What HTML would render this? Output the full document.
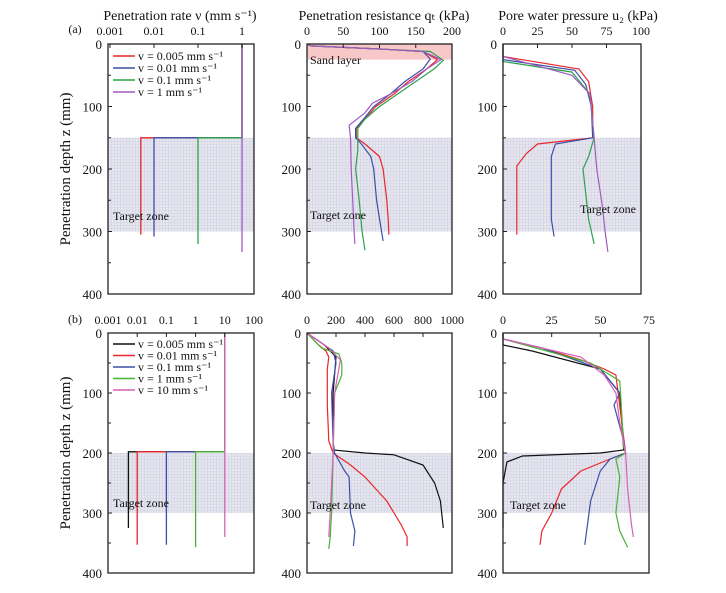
<!DOCTYPE html>
<html><head><meta charset="utf-8"><style>
body{margin:0;background:#fff;}
svg{display:block;font-family:"Liberation Serif",serif;}
</style></head><body>
<svg id="fig" width="726" height="593" viewBox="0 0 726 593" xmlns="http://www.w3.org/2000/svg"></svg>
<script>
// ---- data (depth mm, value) ----
// Panel (a) rate
const aRateLabels=["v = 0.005 mm s⁻¹","v = 0.01 mm s⁻¹","v = 0.1 mm s⁻¹","v = 1 mm s⁻¹"];
const aRateVals=[0.005,0.01,0.1,1];
const aRateEnd=[305,308,320,333];
const aChange=150;
const aColors=["#e8262b","#3b4fa8","#2ca34a","#a05cc0"];
// Panel (a) qt
const aQtDepth=[[0,3,8,12,25,40,60,80,100,120,135,150,160,180,200,250,280,305],[0,3,8,12,24,40,60,80,100,120,135,150,160,180,200,250,280,315],[0,3,8,12,26,40,60,80,100,120,135,150,170,200,250,300,330],[0,3,8,12,25,40,60,80,95,110,130,150,200,250,300,320]];
const aQtVals=[[0,5,100,160,180,165,140,120,95,80,68,68,80,100,105,110,112,113],[0,5,100,160,170,160,135,115,92,78,67,67,75,88,92,96,100,105],[0,5,100,170,188,175,150,125,100,80,70,70,70,67,72,76,80],[0,5,100,160,185,165,145,115,90,80,58,60,61,63,65,66]];
// Panel (a) u2
const aUDepth=[[0,20,40,60,100,150,160,175,195,250,305],[0,25,42,65,100,150,160,180,280,308],[0,28,45,80,150,180,200,280,320],[0,20,50,80,150,200,260,300,333]];
const aUVals=[[0,0,55,62,65,65,25,17,10,10,10],[0,0,52,60,64,65,38,35,35,37],[0,0,50,63,66,62,58,62,66],[0,0,50,63,66,68,72,74,76]];
// Panel (b) rate
const bRateLabels=["v = 0.005 mm s⁻¹","v = 0.01 mm s⁻¹","v = 0.1 mm s⁻¹","v = 1 mm s⁻¹","v = 10 mm s⁻¹"];
const bRateVals=[0.005,0.01,0.1,1,10];
const bRateEnd=[325,353,353,357,340];
const bChange=198;
const bColors=["#111111","#e8262b","#3b4fa8","#49b233","#d860b8"];
// Panel (b) qt
const bQtDepth=[[0,20,40,100,195,200,203,220,250,280,325],[0,20,30,40,60,120,180,200,220,240,280,320,340,355],[0,30,50,100,180,200,230,240,300,330,355],[0,25,35,50,70,100,200,300,340,360],[0,25,45,100,200,300,340]];
const bQtVals=[[0,120,200,180,180,400,600,800,880,920,940],[0,80,130,150,140,140,150,180,300,400,550,650,690,690],[0,180,200,170,180,190,260,290,300,330,320],[0,100,220,240,240,190,180,170,160,150],[0,150,230,190,180,160,150]];
// Panel (b) u2
const bUDepth=[[0,20,30,60,100,195,200,205,215,250,325],[0,10,25,45,60,70,200,210,230,260,300,330,353],[0,10,25,60,100,120,180,200,210,230,280,353],[0,10,50,80,190,200,210,240,300,330,357],[0,10,40,70,100,150,200,260,320,340]];
const bUVals=[[0,0,15,50,60,62,50,10,2,0,0],[0,0,20,40,52,58,63,55,40,30,25,20,19],[0,0,20,50,60,57,62,63,55,50,45,42],[0,0,45,60,62,63,58,60,58,60,64],[0,0,40,52,58,60,63,64,66,67]];

const NS="http://www.w3.org/2000/svg";
const svg=document.getElementById('fig');
function mk(tag,attrs,parent){const e=document.createElementNS(NS,tag);for(const k in attrs)e.setAttribute(k,attrs[k]);(parent||svg).appendChild(e);return e;}
function txt(x,y,s,anchor,size,name){const t=mk('text',{x:x,y:y,'text-anchor':anchor||'middle','font-size':size||12,fill:'#111'});t.textContent=s;

return t;}

const defs=mk('defs',{});
const pat=mk('pattern',{id:'grid',width:3,height:3,patternUnits:'userSpaceOnUse'},defs);
mk('rect',{width:3,height:3,fill:'#e6e6f0'},pat);
mk('path',{d:'M0 0.5H3M0.5 0V3',stroke:'#d2d2e2','stroke-width':0.6},pat);

function panel(o){
  const g=mk('g',{});
  
  
  const y=d=>o.y0+(o.y1-o.y0)*d/400;
  const x=o.sx;
  const z=mk('rect',{x:o.x0,y:y(o.zone[0]),width:o.x1-o.x0,height:y(o.zone[1])-y(o.zone[0]),fill:'url(#grid)'},g);
  
  
  if(o.sand){const s=mk('rect',{x:o.x0,y:y(0),width:o.x1-o.x0,height:y(25)-y(0),fill:'#f8c8c8'},g);
    
    }
  o.draw(g,x,y);
  const f=mk('rect',{x:o.x0,y:o.y0,width:o.x1-o.x0,height:o.y1-o.y0,fill:'none',stroke:'#222','stroke-width':1.3},g);
  
  
  [0,100,200,300,400].forEach(d=>{txt(o.x0-6,y(d)+5,String(d),'end',13,'y-tick-label');mk('line',{x1:o.x0,x2:o.x0+4,y1:y(d),y2:y(d),stroke:'#222'},g);});
  [50,150,250,350].forEach(d=>mk('line',{x1:o.x0,x2:o.x0+3,y1:y(d),y2:y(d),stroke:'#222'},g));
  o.xticks.forEach((v,i)=>{txt(x(v),o.y0-9,o.xlabels[i],'middle',12,'x-tick-label');mk('line',{x1:x(v),x2:x(v),y1:o.y0,y2:o.y0+4,stroke:'#222'},g);});
  txt(o.zoneLabel[0],o.zoneLabel[1],'Target zone','start',12,'target-zone-label');
}
function poly(g,xs,ys,col,w,name){const pts=xs.map((v,i)=>v.toFixed(1)+','+ys[i].toFixed(1)).join(' ');
  const p=mk('polyline',{points:pts,fill:'none',stroke:col,'stroke-width':w||1.2},g);
  
  }
function series(depths,vals,colors,prefix){return (g,x,y)=>{depths.forEach((d,i)=>poly(g,vals[i].map(x),d.map(y),colors[i],1.2,prefix+'-'+i));};}
function rateSeries(vals,ends,change,colors,top,prefix){return (g,x,y)=>{vals.forEach((v,i)=>{poly(g,[x(top),x(top),x(v),x(v)],[y(0),y(change),y(change),y(ends[i])],colors[i],1.3,prefix+'-'+i);});};}
function legend(labels,colors,x0,y0,dy){labels.forEach((l,i)=>{const ln=mk('line',{x1:x0,x2:x0+22,y1:y0+i*dy-4,y2:y0+i*dy-4,stroke:colors[i],'stroke-width':1.6});
  
  
  txt(x0+25,y0+i*dy,l,'start',12,'legend-entry');});}

const logA=v=>110+44*Math.log10(v/0.001);
const logB=v=>108+29.2*Math.log10(v/0.001);
panel({name:'panel-a-rate',x0:108,x1:254,y0:44,y1:294,zone:[150,300],sx:logA,xticks:[0.001,0.01,0.1,1],xlabels:['0.001','0.01','0.1','1'],zoneLabel:[113,220],
  draw:rateSeries(aRateVals,aRateEnd,aChange,aColors,1,'rate-line-a')});
legend(aRateLabels,aColors,113,60,12);
panel({name:'panel-a-resistance',x0:307,x1:452,y0:44,y1:294,zone:[150,300],sand:true,sx:v=>307+145*v/200,xticks:[0,50,100,150,200],xlabels:['0','50','100','150','200'],zoneLabel:[310,219],
  draw:series(aQtDepth,aQtVals,aColors,'qt-line-a')});
txt(310,64,'Sand layer','start',12,'sand-layer-label');
panel({name:'panel-a-pore-pressure',x0:503,x1:641,y0:44,y1:294,zone:[150,300],sx:v=>503+138*v/100,xticks:[0,25,50,75,100],xlabels:['0','25','50','75','100'],zoneLabel:[580,213],
  draw:series(aUDepth,aUVals,aColors,'u-line-a')});
panel({name:'panel-b-rate',x0:108,x1:254,y0:333,y1:573,zone:[200,300],sx:logB,xticks:[0.001,0.01,0.1,1,10,100],xlabels:['0.001','0.01','0.1','1','10','100'],zoneLabel:[113,507],
  draw:rateSeries(bRateVals,bRateEnd,bChange,bColors,10,'rate-line-b')});
legend(bRateLabels,bColors,113,348,11.5);
panel({name:'panel-b-resistance',x0:307,x1:452,y0:333,y1:573,zone:[200,300],sx:v=>307+145*v/1000,xticks:[0,200,400,600,800,1000],xlabels:['0','200','400','600','800','1000'],zoneLabel:[310,509],
  draw:series(bQtDepth,bQtVals,bColors,'qt-line-b')});
panel({name:'panel-b-pore-pressure',x0:503,x1:649,y0:333,y1:573,zone:[200,300],sx:v=>503+146*v/75,xticks:[0,25,50,75],xlabels:['0','25','50','75'],zoneLabel:[510,509],
  draw:series(bUDepth,bUVals,bColors,'u-line-b')});

txt(180,20,'Penetration rate ν (mm s⁻¹)','middle',14,'x-axis-title-rate');
txt(384,20,'Penetration resistance qₜ (kPa)','middle',14,'x-axis-title-resistance');
txt(578,20,'Pore water pressure u₂ (kPa)','middle',14,'x-axis-title-pore-pressure');
txt(75,33,'(a)','middle',12,'panel-label-a');
txt(75,323,'(b)','middle',12,'panel-label-b');
[169,453].forEach((cy,i)=>{const t=txt(0,0,'Penetration depth z (mm)','middle',15,'y-axis-title');t.setAttribute('transform','translate(70,'+cy+') rotate(-90)');});
</script>
</body></html>
